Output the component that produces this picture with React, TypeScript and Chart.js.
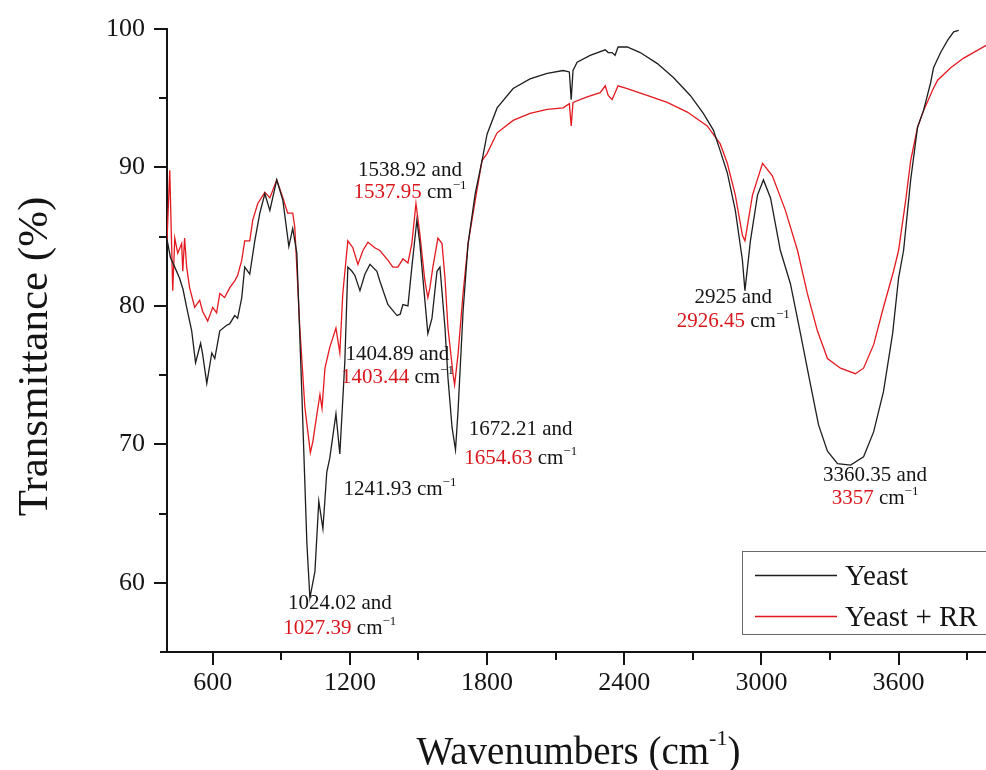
import { useEffect, useRef } from 'react';
import { Chart, registerables } from 'chart.js';

Chart.register(...registerables);

// ---------- data ----------
const yeastWavenumbers = [
  400, 415, 434, 455, 470, 486, 508, 525, 547, 556, 574, 596, 609, 631, 661, 674, 696, 709, 727, 740,
  762, 784, 806, 828, 850, 880, 907, 933, 950, 968, 990, 1012, 1025, 1047, 1064, 1082, 1099, 1112, 1139, 1156,
  1178, 1191, 1209, 1222, 1244, 1266, 1288, 1318, 1331, 1366, 1406, 1420, 1432, 1454, 1471, 1493, 1506, 1528, 1541, 1559,
  1581, 1594, 1616, 1629, 1647, 1662, 1673, 1695, 1717, 1748, 1778, 1800, 1844, 1914, 1988, 2063, 2133, 2160, 2168, 2176,
  2194, 2251, 2317, 2330, 2347, 2360, 2373, 2413, 2470, 2545, 2615, 2689, 2746, 2790, 2820, 2851, 2886, 2917, 2928, 2952,
  2983, 3009, 3040, 3083, 3127, 3171, 3215, 3250, 3289, 3333, 3390, 3447, 3491, 3534, 3574, 3600, 3622, 3653, 3683, 3709,
  3740, 3753, 3784, 3815, 3841, 3863,
];
const yeastTransmittance = [
  84.8, 83.5, 82.8, 82.0, 81.2, 79.9, 78.2, 75.9, 77.3, 76.5, 74.4, 76.6, 76.2, 78.2, 78.6, 78.7, 79.3, 79.1, 80.6, 82.8,
  82.3, 84.7, 86.7, 88.1, 86.9, 89.1, 87.6, 84.3, 85.6, 83.8, 73.6, 62.8, 58.9, 60.8, 65.9, 63.9, 68.0, 69.0, 72.2, 69.3,
  76.0, 82.8, 82.5, 82.2, 81.1, 82.3, 83.0, 82.5, 81.8, 80.1, 79.3, 79.4, 80.1, 80.0, 82.8, 86.2, 84.5, 80.4, 78.0, 79.1,
  82.5, 82.8, 78.4, 74.8, 71.2, 69.6, 72.4, 79.6, 84.5, 88.1, 90.5, 92.4, 94.3, 95.7, 96.4, 96.8, 97.0, 96.9, 94.9, 97.0,
  97.6, 98.1, 98.5, 98.3, 98.3, 98.1, 98.7, 98.7, 98.3, 97.5, 96.5, 95.2, 93.9, 92.7, 91.2, 89.6, 86.9, 83.3, 81.1, 84.7,
  88.0, 89.1, 87.8, 84.0, 81.6, 78.0, 74.3, 71.4, 69.5, 68.6, 68.5, 69.1, 70.9, 73.8, 78.0, 82.0, 84.0, 89.1, 92.9, 94.1,
  96.1, 97.2, 98.3, 99.2, 99.8, 99.9,
];
const yeastRRWavenumbers = [
  400, 412, 420, 425, 434, 447, 464, 469, 477, 486, 499, 521, 543, 556, 578, 600, 617, 631, 652, 674,
  696, 709, 727, 740, 762, 775, 797, 828, 850, 880, 907, 928, 950, 959, 981, 1003, 1027, 1038, 1056, 1069,
  1078, 1091, 1112, 1139, 1156, 1169, 1191, 1213, 1235, 1257, 1279, 1309, 1331, 1366, 1388, 1410, 1432, 1454, 1471, 1489,
  1506, 1528, 1541, 1550, 1563, 1585, 1603, 1616, 1629, 1651, 1658, 1673, 1695, 1717, 1748, 1778, 1800, 1844, 1914, 1988,
  2063, 2133, 2160, 2168, 2176, 2238, 2295, 2317, 2330, 2347, 2360, 2373, 2413, 2500, 2588, 2676, 2763, 2820, 2851, 2886,
  2917, 2928, 2961, 3005, 3048, 3105, 3158, 3201, 3245, 3289, 3346, 3411, 3447, 3491, 3534, 3578, 3600, 3631, 3653, 3683,
  3709, 3731, 3749, 3771, 3828, 3885, 3981, 4000,
];
const yeastRRTransmittance = [
  84.7, 89.8, 84.5, 81.1, 84.9, 83.8, 84.5, 82.5, 84.9, 82.8, 81.3, 79.9, 80.4, 79.6, 78.9, 79.9, 79.5, 80.9, 80.6, 81.3,
  81.8, 82.2, 83.3, 84.7, 84.7, 86.2, 87.4, 88.2, 87.8, 89.1, 87.8, 86.7, 86.7, 85.7, 78.4, 72.7, 69.4, 70.2, 72.2, 73.6,
  72.6, 75.5, 77.0, 78.4, 76.6, 80.9, 84.7, 84.2, 83.0, 84.0, 84.6, 84.2, 84.0, 83.3, 82.8, 82.8, 83.4, 83.1, 84.5, 87.4,
  85.2, 81.8, 80.6, 81.3, 82.8, 84.9, 84.5, 82.0, 78.4, 75.1, 74.3, 76.5, 80.9, 84.5, 87.6, 90.5, 91.0, 92.5, 93.4, 93.9,
  94.2, 94.3, 94.6, 93.0, 94.7, 95.1, 95.4, 95.9, 95.2, 94.9, 95.4, 95.9, 95.7, 95.2, 94.7, 94.0, 93.0, 91.7, 90.3, 88.0,
  85.1, 84.7, 88.0, 90.3, 89.4, 86.9, 84.0, 80.9, 78.2, 76.2, 75.5, 75.1, 75.5, 77.2, 79.9, 82.5, 84.0, 87.6, 90.5, 92.9,
  94.1, 94.9, 95.6, 96.3, 97.2, 97.9, 98.8, 98.9,
];

const seriesNames = ['Yeast', 'Yeast + RR'];
const seriesColors = ['#1e1e1e', '#e3191f'];

const xTickValues = [600, 1200, 1800, 2400, 3000, 3600];
const xMinorTickValues = [900, 1500, 2100, 2700, 3300, 3900];
const yTickValues = [60, 70, 80, 90, 100];
const yMinorTickValues = [65, 75, 85, 95];

// peak annotations: anchor (wavenumber, transmittance) of the first line centre
const peakAnchorsX = [1463, 1408, 1419, 1947, 1156, 2877, 3497];
const peakAnchorsY = [89.75, 76.46, 66.71, 71.05, 58.48, 80.58, 67.73];
const peakLine1 = ['1538.92 and', '1404.89 and', '', '1672.21 and', '1024.02 and', '2925 and', '3360.35 and'];
const peakLine2 = ['1537.95', '1403.44', '1241.93', '1654.63', '1027.39', '2926.45', '3357'];
const peakLine2Red = [true, true, false, true, true, true, true];
const peakLineGap = [22, 23, 0, 29, 25, 24, 23];

const SERIF = "'Liberation Serif', 'Times New Roman', serif";
const TEXT = '#141414';
const RED_TEXT = '#d9161c';

type Seg = { t: string; size: number; color: string; dy: number };

function drawSegs(ctx: CanvasRenderingContext2D, segs: Seg[], cx: number, y: number, align: 'center' | 'left' = 'center') {
  let total = 0;
  const widths = segs.map((s) => {
    ctx.font = `${s.size}px ${SERIF}`;
    const w = ctx.measureText(s.t).width;
    total += w;
    return w;
  });
  let x = align === 'center' ? cx - total / 2 : cx;
  ctx.textAlign = 'left';
  segs.forEach((s, i) => {
    ctx.font = `${s.size}px ${SERIF}`;
    ctx.fillStyle = s.color;
    ctx.fillText(s.t, x, y + s.dy);
    x += widths[i];
  });
}

const decorPlugin = {
  id: 'ftirDecor',
  afterDraw(chart: any) {
    const ctx: CanvasRenderingContext2D = chart.ctx;
    const xs = chart.scales.x;
    const ys = chart.scales.y;
    const area = chart.chartArea;
    ctx.save();

    // minor ticks
    ctx.strokeStyle = TEXT;
    ctx.lineWidth = 2;
    ctx.beginPath();
    yMinorTickValues.forEach((v) => {
      const py = Math.round(ys.getPixelForValue(v));
      ctx.moveTo(area.left - 8, py);
      ctx.lineTo(area.left, py);
    });
    xMinorTickValues.forEach((v) => {
      const px = Math.round(xs.getPixelForValue(v));
      ctx.moveTo(px, area.bottom);
      ctx.lineTo(px, area.bottom + 8);
    });
    // small overhang of the x axis to the left
    ctx.moveTo(area.left - 7, area.bottom);
    ctx.lineTo(area.left, area.bottom);
    ctx.stroke();

    // peak annotations
    ctx.textBaseline = 'middle';
    peakAnchorsX.forEach((wx, i) => {
      const cx = xs.getPixelForValue(wx);
      const cy = ys.getPixelForValue(peakAnchorsY[i]);
      let y2 = cy;
      if (peakLine1[i]) {
        drawSegs(ctx, [{ t: peakLine1[i], size: 21, color: TEXT, dy: 0 }], cx, cy);
        y2 = cy + peakLineGap[i];
      }
      drawSegs(
        ctx,
        [
          { t: peakLine2[i], size: 21, color: peakLine2Red[i] ? RED_TEXT : TEXT, dy: 0 },
          { t: ' cm', size: 21, color: TEXT, dy: 0 },
          { t: '\u22121', size: 13, color: TEXT, dy: -7 },
        ],
        cx,
        y2,
      );
    });

    // legend
    const lx = 742, ly = 551, lh = 83;
    ctx.strokeStyle = '#6a6a6a';
    ctx.lineWidth = 1;
    ctx.strokeRect(lx + 0.5, ly + 0.5, 400, lh);
    const rows = [575, 616];
    seriesNames.forEach((name, i) => {
      ctx.strokeStyle = seriesColors[i];
      ctx.lineWidth = 1.3;
      ctx.beginPath();
      ctx.moveTo(755, rows[i] + 0.5);
      ctx.lineTo(837, rows[i] + 0.5);
      ctx.stroke();
      ctx.textBaseline = 'alphabetic';
      ctx.font = `29px ${SERIF}`;
      ctx.fillStyle = TEXT;
      ctx.textAlign = 'left';
      ctx.fillText(name, 845, rows[i] + 10);
    });

    // axis titles
    ctx.textBaseline = 'alphabetic';
    ctx.save();
    ctx.translate(47, (area.top + area.bottom) / 2 + 16);
    ctx.rotate(-Math.PI / 2);
    ctx.font = `43px ${SERIF}`;
    ctx.fillStyle = TEXT;
    ctx.textAlign = 'center';
    ctx.fillText('Transmittance (%)', 0, 0);
    ctx.restore();

    drawSegs(
      ctx,
      [
        { t: 'Wavenumbers (cm', size: 39, color: TEXT, dy: 0 },
        { t: '-1', size: 22, color: TEXT, dy: -19 },
        { t: ')', size: 39, color: TEXT, dy: 0 },
      ],
      (area.left + area.right) / 2 + 0,
      764,
    );

    ctx.restore();
  },
};

export default function App() {
  const canvasRef = useRef<HTMLCanvasElement | null>(null);

  useEffect(() => {
    if (!canvasRef.current) return;
    const toPoints = (xs: number[], ys: number[]) => xs.map((x, i) => ({ x, y: ys[i] }));
    const tickFont = { family: SERIF, size: 26 };
    const chart = new Chart(canvasRef.current, {
      type: 'line',
      data: {
        datasets: [
          {
            label: seriesNames[0],
            data: toPoints(yeastWavenumbers, yeastTransmittance),
            borderColor: seriesColors[0],
            borderWidth: 1.3,
            pointRadius: 0,
            tension: 0,
            fill: false,
          },
          {
            label: seriesNames[1],
            data: toPoints(yeastRRWavenumbers, yeastRRTransmittance),
            borderColor: seriesColors[1],
            borderWidth: 1.3,
            pointRadius: 0,
            tension: 0,
            fill: false,
          },
        ],
      },
      options: {
        responsive: false,
        animation: false,
        devicePixelRatio: 1,
        events: [],
        layout: { padding: { left: 0, right: 22, top: 29, bottom: 0 } },
        plugins: { legend: { display: false }, tooltip: { enabled: false } },
        scales: {
          x: {
            type: 'linear',
            min: 400,
            max: 4000,
            afterBuildTicks: (s: any) => {
              s.ticks = xTickValues.map((v) => ({ value: v }));
            },
            afterFit: (s: any) => {
              s.height = 118;
            },
            grid: {
              display: true,
              drawOnChartArea: false,
              drawTicks: true,
              tickLength: 13,
              tickWidth: 2,
              tickColor: TEXT,
              lineWidth: 2,
              color: TEXT,
            },
            border: { display: true, color: TEXT, width: 2 },
            ticks: {
              color: TEXT,
              font: tickFont,
              padding: 3,
              maxRotation: 0,
              autoSkip: false,
              callback: (v: any) => String(v),
            },
          },
          y: {
            type: 'linear',
            min: 55,
            max: 100,
            afterBuildTicks: (s: any) => {
              s.ticks = yTickValues.map((v) => ({ value: v }));
            },
            afterFit: (s: any) => {
              s.width = 167;
            },
            grid: {
              display: true,
              drawOnChartArea: false,
              drawTicks: true,
              tickLength: 13,
              tickWidth: 2,
              tickColor: TEXT,
              lineWidth: 2,
              color: TEXT,
            },
            border: { display: true, color: TEXT, width: 2 },
            ticks: {
              color: TEXT,
              font: tickFont,
              padding: 9,
              autoSkip: false,
              callback: (v: any) => String(v),
            },
          },
        },
      },
      plugins: [decorPlugin],
    } as any);
    return () => chart.destroy();
  }, []);

  return (
    <div
      style={{
        position: 'fixed',
        left: 0,
        top: 0,
        width: 986,
        height: 770,
        overflow: 'hidden',
        background: '#ffffff',
      }}
    >
      <canvas ref={canvasRef} width={1012} height={770} style={{ display: 'block', width: 1012, height: 770 }} />
    </div>
  );
}
